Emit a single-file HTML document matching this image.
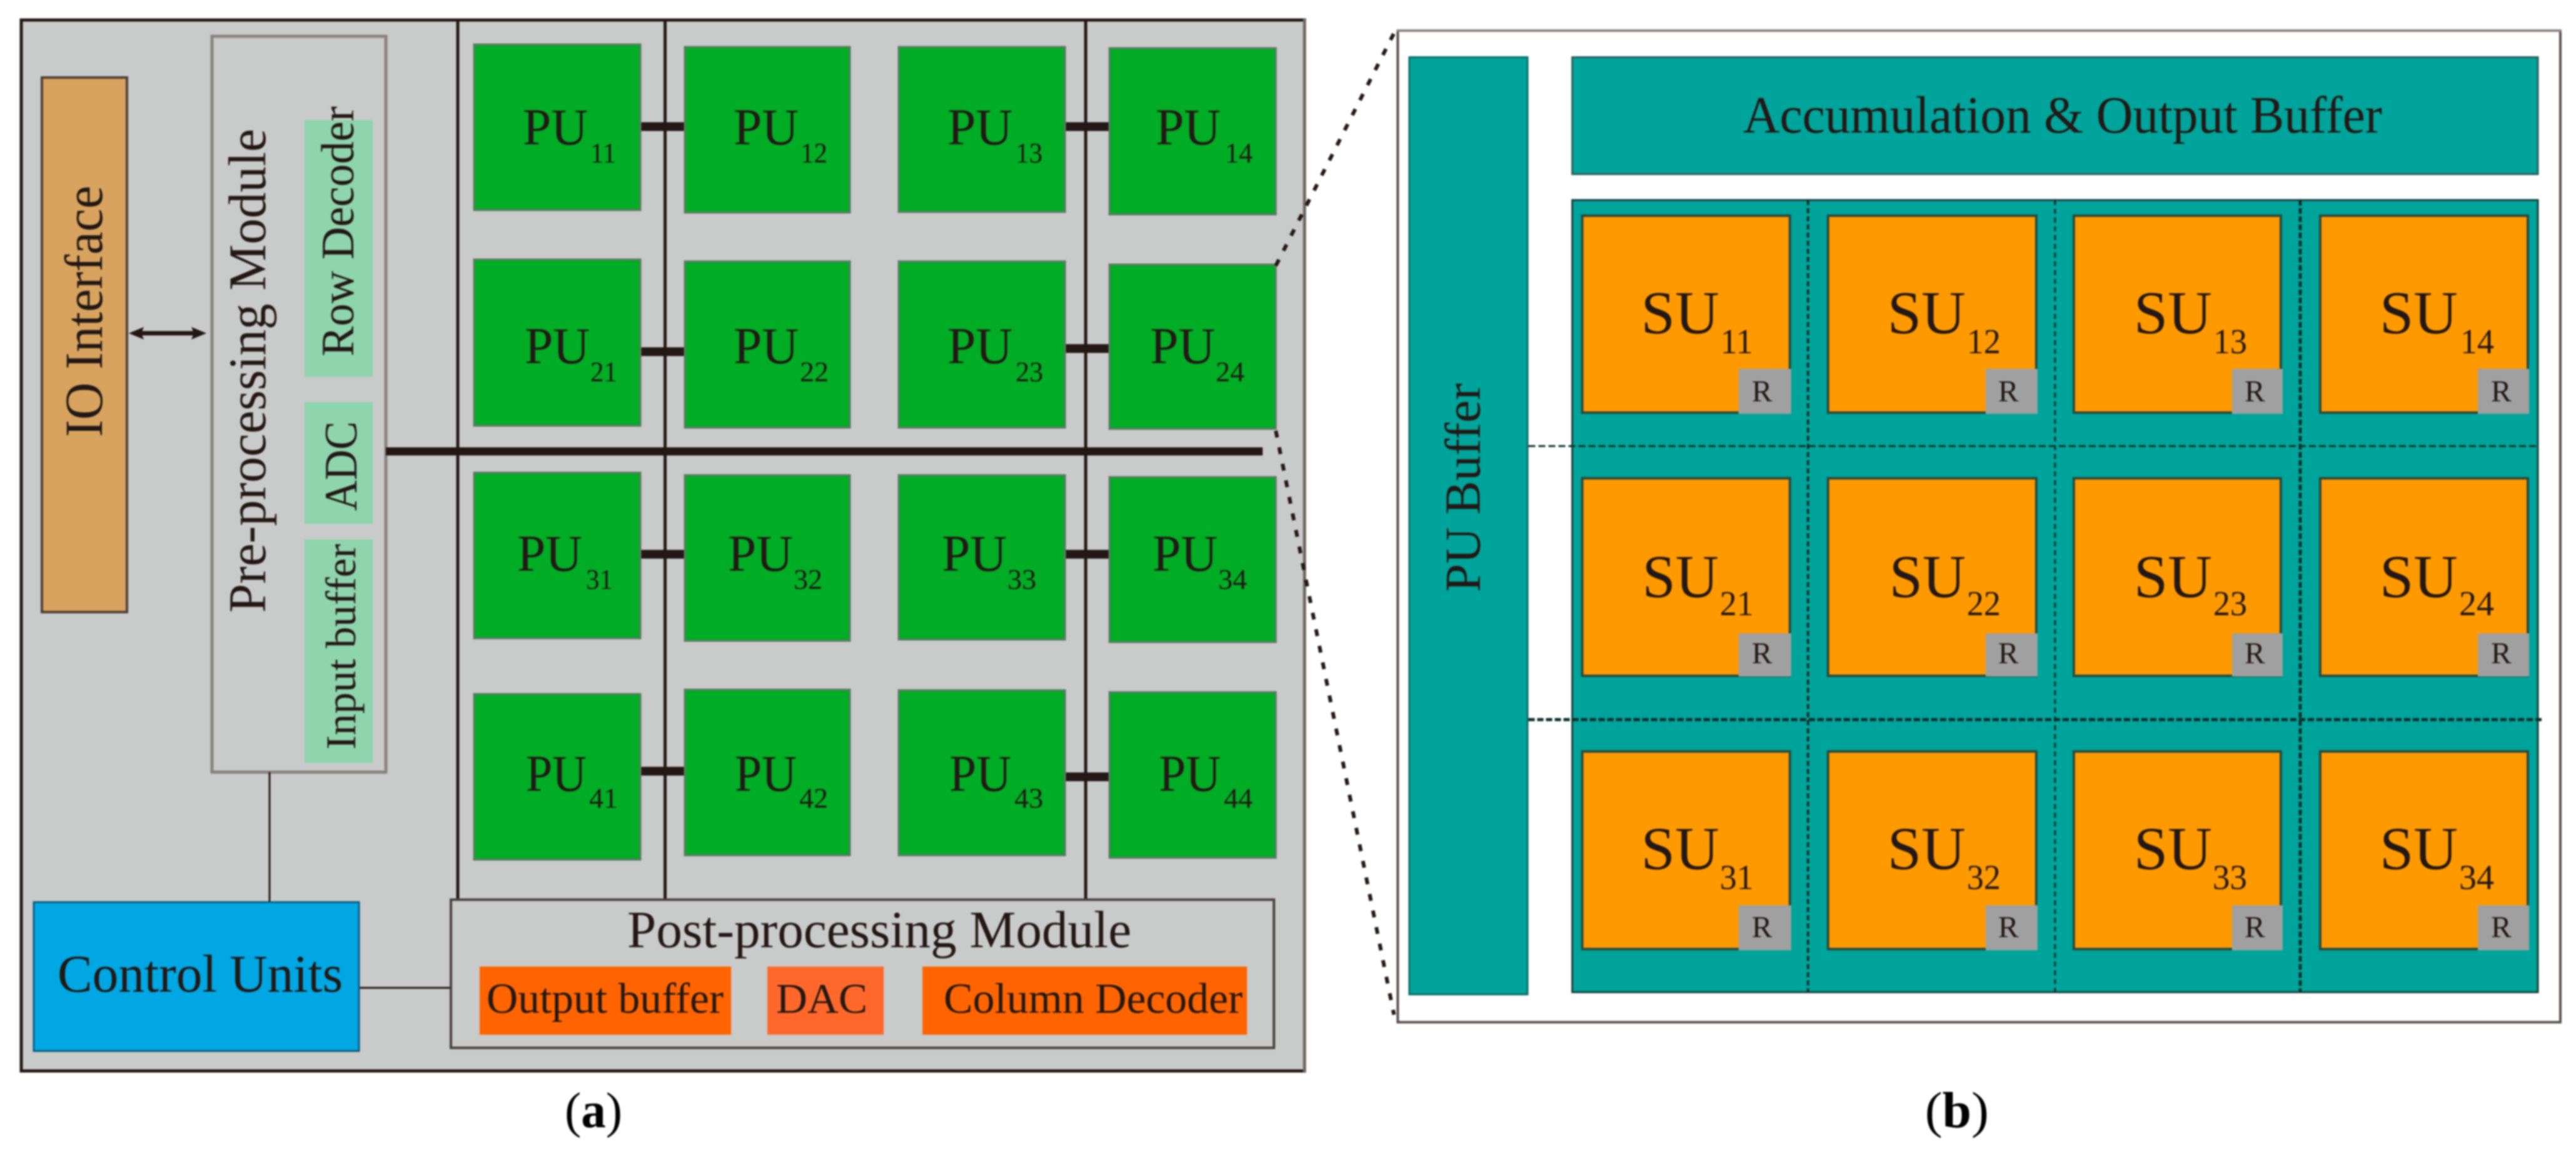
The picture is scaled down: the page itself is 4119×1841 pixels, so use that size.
<!DOCTYPE html>
<html><head><meta charset="utf-8"><style>
html,body{margin:0;padding:0;background:#fff;width:4119px;height:1841px;overflow:hidden}
svg{display:block;filter:blur(1.2px)}
text{font-family:"Liberation Serif",serif;fill:#231815}
.pu{font-size:83px}.pus{font-size:45px}.su{font-size:98px}.sus{font-size:56px}.r{font-size:49px}
.g rect{fill:#00ad24;stroke:#5f7a66;stroke-width:3}
.s rect{fill:#ff9900;stroke:#2a4a3f;stroke-width:4}
.rb rect{fill:#a0a0a0;stroke:none}
</style></head><body>
<svg xmlns="http://www.w3.org/2000/svg" width="4119" height="1841" viewBox="0 0 4119 1841">
<rect width="4119" height="1841" fill="#fff"/>
<!-- panel a -->
<rect x="34" y="32" width="2052" height="1681" fill="#c9caca" stroke="#231815" stroke-width="5"/>
<line x1="2086" y1="30" x2="2086" y2="1715" stroke="#6f6763" stroke-width="5"/>
<g stroke="#231815" stroke-width="5">
<line x1="732" y1="32" x2="732" y2="1437"/><line x1="1063.5" y1="32" x2="1063.5" y2="1437"/><line x1="1736" y1="32" x2="1736" y2="1437"/>
</g>
<rect x="67" y="124" width="136" height="855" fill="#d7a35f" stroke="#4f4038" stroke-width="4"/>
<rect x="339" y="58" width="278" height="1177" fill="#c9caca" stroke="#8a8381" stroke-width="5"/>
<rect x="487" y="192" width="109" height="411" fill="#8ed4ac"/>
<rect x="487" y="643" width="109" height="195" fill="#8ed4ac"/>
<rect x="487" y="863" width="109" height="357" fill="#8ed4ac"/>
<text transform="translate(163,699) rotate(-90)" font-size="86" textLength="402" lengthAdjust="spacingAndGlyphs">IO Interface</text>
<text transform="translate(424,980) rotate(-90)" font-size="85" textLength="774" lengthAdjust="spacingAndGlyphs">Pre-processing Module</text>
<text transform="translate(565,570) rotate(-90)" font-size="74" textLength="400" lengthAdjust="spacingAndGlyphs">Row Decoder</text>
<text transform="translate(570,817) rotate(-90)" font-size="74" textLength="143" lengthAdjust="spacingAndGlyphs">ADC</text>
<text transform="translate(568,1199) rotate(-90)" font-size="68" textLength="329" lengthAdjust="spacingAndGlyphs">Input buffer</text>
<!-- arrow -->
<line x1="215" y1="533" x2="322" y2="533" stroke="#231815" stroke-width="7"/>
<path d="M206 533L230 523L226 533L230 543Z M330 533L306 523L310 533L306 543Z" fill="#231815"/>
<!-- bus -->
<rect x="617" y="715.5" width="1402" height="13" fill="#231815"/>
<!-- connectors -->
<g fill="#231815">
<rect x="1024" y="195.5" width="71" height="14"/><rect x="1024" y="555.5" width="71" height="14"/><rect x="1024" y="879.5" width="71" height="14"/><rect x="1024" y="1226.5" width="71" height="14"/>
<rect x="1703" y="195.5" width="71" height="14"/><rect x="1703" y="550.5" width="71" height="14"/><rect x="1703" y="879.5" width="71" height="14"/><rect x="1703" y="1235.5" width="71" height="14"/>
</g>
<g class="g">
<rect x="758" y="71" width="266" height="265"/><rect x="1095" y="75" width="264" height="265"/><rect x="1437" y="75" width="266" height="264"/><rect x="1774" y="77" width="266" height="266"/>
<rect x="758" y="415" width="266" height="266"/><rect x="1095" y="418" width="264" height="266"/><rect x="1437" y="418" width="266" height="266"/><rect x="1774" y="423" width="266" height="263"/>
<rect x="758" y="756" width="266" height="265"/><rect x="1095" y="760" width="264" height="265"/><rect x="1437" y="760" width="266" height="263"/><rect x="1774" y="763" width="266" height="264"/>
<rect x="758" y="1110" width="266" height="265"/><rect x="1095" y="1103" width="264" height="265"/><rect x="1437" y="1104" width="266" height="264"/><rect x="1774" y="1107" width="266" height="265"/>
</g>
<g>
<text class="pu" x="836" y="231" textLength="104" lengthAdjust="spacingAndGlyphs">PU</text><text class="pus" x="944" y="260" textLength="41" lengthAdjust="spacingAndGlyphs">11</text>
<text class="pu" x="1173" y="231" textLength="104" lengthAdjust="spacingAndGlyphs">PU</text><text class="pus" x="1280" y="260" textLength="43" lengthAdjust="spacingAndGlyphs">12</text>
<text class="pu" x="1515" y="231" textLength="104" lengthAdjust="spacingAndGlyphs">PU</text><text class="pus" x="1624" y="260" textLength="43" lengthAdjust="spacingAndGlyphs">13</text>
<text class="pu" x="1848" y="231" textLength="104" lengthAdjust="spacingAndGlyphs">PU</text><text class="pus" x="1959" y="260" textLength="44" lengthAdjust="spacingAndGlyphs">14</text>
<text class="pu" x="839" y="581" textLength="104" lengthAdjust="spacingAndGlyphs">PU</text><text class="pus" x="944" y="610" textLength="43" lengthAdjust="spacingAndGlyphs">21</text>
<text class="pu" x="1173" y="581" textLength="104" lengthAdjust="spacingAndGlyphs">PU</text><text class="pus" x="1279" y="610" textLength="46" lengthAdjust="spacingAndGlyphs">22</text>
<text class="pu" x="1515" y="581" textLength="104" lengthAdjust="spacingAndGlyphs">PU</text><text class="pus" x="1624" y="610" textLength="44" lengthAdjust="spacingAndGlyphs">23</text>
<text class="pu" x="1839" y="581" textLength="104" lengthAdjust="spacingAndGlyphs">PU</text><text class="pus" x="1944" y="610" textLength="46" lengthAdjust="spacingAndGlyphs">24</text>
<text class="pu" x="827" y="913" textLength="104" lengthAdjust="spacingAndGlyphs">PU</text><text class="pus" x="937" y="942" textLength="43" lengthAdjust="spacingAndGlyphs">31</text>
<text class="pu" x="1164" y="913" textLength="104" lengthAdjust="spacingAndGlyphs">PU</text><text class="pus" x="1269" y="942" textLength="46" lengthAdjust="spacingAndGlyphs">32</text>
<text class="pu" x="1506" y="913" textLength="104" lengthAdjust="spacingAndGlyphs">PU</text><text class="pus" x="1611" y="942" textLength="46" lengthAdjust="spacingAndGlyphs">33</text>
<text class="pu" x="1843" y="913" textLength="104" lengthAdjust="spacingAndGlyphs">PU</text><text class="pus" x="1948" y="942" textLength="46" lengthAdjust="spacingAndGlyphs">34</text>
<text class="pu" x="841" y="1265" textLength="97" lengthAdjust="spacingAndGlyphs">PU</text><text class="pus" x="942" y="1292" textLength="46" lengthAdjust="spacingAndGlyphs">41</text>
<text class="pu" x="1175" y="1265" textLength="99" lengthAdjust="spacingAndGlyphs">PU</text><text class="pus" x="1278" y="1292" textLength="46" lengthAdjust="spacingAndGlyphs">42</text>
<text class="pu" x="1518" y="1265" textLength="99" lengthAdjust="spacingAndGlyphs">PU</text><text class="pus" x="1622" y="1292" textLength="46" lengthAdjust="spacingAndGlyphs">43</text>
<text class="pu" x="1853" y="1265" textLength="99" lengthAdjust="spacingAndGlyphs">PU</text><text class="pus" x="1957" y="1292" textLength="46" lengthAdjust="spacingAndGlyphs">44</text>
</g>
<!-- control -->
<line x1="431" y1="1235" x2="431" y2="1442" stroke="#231815" stroke-width="3"/>
<line x1="575" y1="1580" x2="719" y2="1580" stroke="#231815" stroke-width="3"/>
<rect x="54" y="1443" width="520" height="238" fill="#00a7e3" stroke="#0b5f80" stroke-width="3"/>
<text x="92" y="1586" font-size="85" textLength="456" lengthAdjust="spacingAndGlyphs">Control Units</text>
<!-- post -->
<rect x="721" y="1439" width="1316" height="237" fill="#c9caca" stroke="#4a4240" stroke-width="4"/>
<text x="1003" y="1515" font-size="84" textLength="806" lengthAdjust="spacingAndGlyphs">Post-processing Module</text>
<rect x="767" y="1546" width="402" height="109" fill="#ff6400"/>
<rect x="1227" y="1546" width="186" height="109" fill="#ff682a"/>
<rect x="1475" y="1546" width="519" height="109" fill="#ff6400"/>
<text x="778" y="1620" font-size="69" textLength="379" lengthAdjust="spacingAndGlyphs">Output buffer</text>
<text x="1241" y="1620" font-size="68" textLength="146" lengthAdjust="spacingAndGlyphs">DAC</text>
<text x="1509" y="1620" font-size="69" textLength="478" lengthAdjust="spacingAndGlyphs">Column Decoder</text>
<!-- dashed zoom lines -->
<g stroke="#231815" stroke-width="6" stroke-dasharray="11 16" fill="none">
<line x1="2040" y1="425" x2="2229" y2="53"/>
<line x1="2040" y1="689" x2="2229" y2="1623"/>
</g>
<!-- panel b -->
<rect x="2235" y="49" width="1859" height="1586" fill="#fff" stroke="#5a514e" stroke-width="4"/>
<line x1="2233" y1="49" x2="4096" y2="49" stroke="#8a8381" stroke-width="4"/>
<rect x="2253.5" y="91.5" width="189" height="1499" fill="#00a49a" stroke="#0f6f69" stroke-width="3"/>
<text transform="translate(2366,947) rotate(-90)" font-size="80" textLength="334" lengthAdjust="spacingAndGlyphs">PU Buffer</text>
<rect x="2514" y="91.5" width="1544" height="187" fill="#00a49a" stroke="#2a5f5c" stroke-width="3"/>
<text x="2787" y="212" font-size="84" textLength="1022" lengthAdjust="spacingAndGlyphs">Accumulation &amp; Output Buffer</text>
<rect x="2514" y="320" width="1544" height="1267" fill="#00a49a" stroke="#16403d" stroke-width="3"/>
<g class="s">
<rect x="2530" y="345" width="332" height="315"/><rect x="2923" y="345" width="333" height="315"/><rect x="3316" y="345" width="331" height="315"/><rect x="3710" y="345" width="332" height="315"/>
<rect x="2530" y="765" width="332" height="316"/><rect x="2923" y="765" width="333" height="316"/><rect x="3316" y="765" width="331" height="316"/><rect x="3710" y="765" width="332" height="316"/>
<rect x="2530" y="1202" width="332" height="316"/><rect x="2923" y="1202" width="333" height="316"/><rect x="3316" y="1202" width="331" height="316"/><rect x="3710" y="1202" width="332" height="316"/>
</g>
<g class="rb">
<rect x="2780" y="590" width="84" height="72"/><rect x="3175" y="590" width="83" height="72"/><rect x="3569" y="590" width="81" height="72"/><rect x="3962" y="590" width="82" height="72"/>
<rect x="2780" y="1013" width="84" height="69"/><rect x="3175" y="1013" width="83" height="69"/><rect x="3569" y="1013" width="81" height="69"/><rect x="3962" y="1013" width="82" height="69"/>
<rect x="2780" y="1448" width="84" height="72"/><rect x="3175" y="1448" width="83" height="72"/><rect x="3569" y="1448" width="81" height="72"/><rect x="3962" y="1448" width="82" height="72"/>
</g>
<g>
<text class="r" x="2801" y="642">R</text><text class="r" x="3195" y="642">R</text><text class="r" x="3589" y="642">R</text><text class="r" x="3983" y="642">R</text>
<text class="r" x="2801" y="1061">R</text><text class="r" x="3195" y="1061">R</text><text class="r" x="3589" y="1061">R</text><text class="r" x="3983" y="1061">R</text>
<text class="r" x="2801" y="1499">R</text><text class="r" x="3195" y="1499">R</text><text class="r" x="3589" y="1499">R</text><text class="r" x="3983" y="1499">R</text>
</g>
<g>
<text class="su" x="2624" y="533" textLength="125" lengthAdjust="spacingAndGlyphs">SU</text><text class="sus" x="2751" y="565" textLength="52" lengthAdjust="spacingAndGlyphs">11</text>
<text class="su" x="3018" y="533" textLength="125" lengthAdjust="spacingAndGlyphs">SU</text><text class="sus" x="3145" y="565" textLength="54" lengthAdjust="spacingAndGlyphs">12</text>
<text class="su" x="3412" y="533" textLength="125" lengthAdjust="spacingAndGlyphs">SU</text><text class="sus" x="3539" y="565" textLength="54" lengthAdjust="spacingAndGlyphs">13</text>
<text class="su" x="3805" y="533" textLength="125" lengthAdjust="spacingAndGlyphs">SU</text><text class="sus" x="3934" y="565" textLength="54" lengthAdjust="spacingAndGlyphs">14</text>
<text class="su" x="2626" y="955" textLength="122" lengthAdjust="spacingAndGlyphs">SU</text><text class="sus" x="2750" y="984" textLength="54" lengthAdjust="spacingAndGlyphs">21</text>
<text class="su" x="3021" y="955" textLength="122" lengthAdjust="spacingAndGlyphs">SU</text><text class="sus" x="3145" y="984" textLength="54" lengthAdjust="spacingAndGlyphs">22</text>
<text class="su" x="3412" y="955" textLength="125" lengthAdjust="spacingAndGlyphs">SU</text><text class="sus" x="3539" y="984" textLength="54" lengthAdjust="spacingAndGlyphs">23</text>
<text class="su" x="3805" y="955" textLength="125" lengthAdjust="spacingAndGlyphs">SU</text><text class="sus" x="3932" y="984" textLength="56" lengthAdjust="spacingAndGlyphs">24</text>
<text class="su" x="2624" y="1390" textLength="125" lengthAdjust="spacingAndGlyphs">SU</text><text class="sus" x="2750" y="1422" textLength="54" lengthAdjust="spacingAndGlyphs">31</text>
<text class="su" x="3018" y="1390" textLength="125" lengthAdjust="spacingAndGlyphs">SU</text><text class="sus" x="3145" y="1422" textLength="54" lengthAdjust="spacingAndGlyphs">32</text>
<text class="su" x="3412" y="1390" textLength="125" lengthAdjust="spacingAndGlyphs">SU</text><text class="sus" x="3538" y="1422" textLength="55" lengthAdjust="spacingAndGlyphs">33</text>
<text class="su" x="3805" y="1390" textLength="125" lengthAdjust="spacingAndGlyphs">SU</text><text class="sus" x="3932" y="1422" textLength="56" lengthAdjust="spacingAndGlyphs">34</text>
</g>
<!-- dotted grid -->
<g stroke="#10302e" fill="none">
<line x1="2891" y1="320" x2="2891" y2="1587" stroke-width="4" stroke-dasharray="8 5"/>
<line x1="3286" y1="320" x2="3286" y2="1587" stroke-width="3" stroke-dasharray="8 6"/>
<line x1="3678" y1="320" x2="3678" y2="1587" stroke-width="5" stroke-dasharray="9 4"/>
<line x1="2444" y1="713.5" x2="4060" y2="713.5" stroke-width="3" stroke-dasharray="11 5"/>
<line x1="2444" y1="1151" x2="4065" y2="1151" stroke-width="5" stroke-dasharray="10 4"/>
</g>
<!-- captions -->
<text x="903" y="1803" font-size="80" textLength="92" lengthAdjust="spacingAndGlyphs" style="fill:#000">(<tspan font-weight="bold">a</tspan>)</text>
<text x="3078" y="1803" font-size="82" textLength="102" lengthAdjust="spacingAndGlyphs" style="fill:#000">(<tspan font-weight="bold">b</tspan>)</text>
</svg>
</body></html>
